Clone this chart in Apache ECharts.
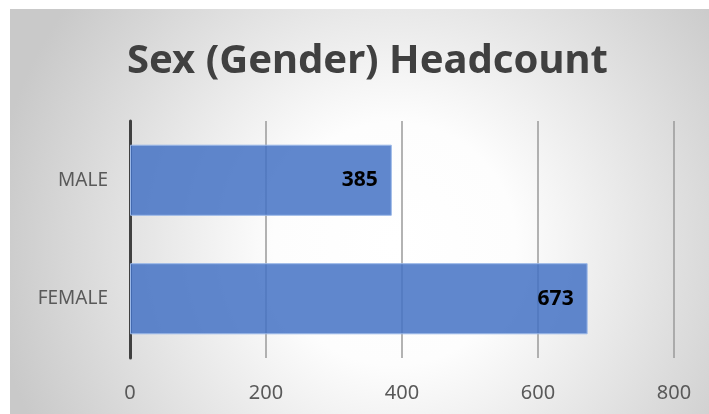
<!DOCTYPE html>
<html>
<head>
<meta charset="utf-8" />
<title>Sex (Gender) Headcount</title>
<script src="https://cdn.jsdelivr.net/npm/echarts@6/dist/echarts.min.js"></script>
</head>
<body style="margin: 0; background: #fff">
<div id="container" style="width: 709px; height: 414px"></div>
<script type="text/javascript">
  // chart data
  const categories = ["FEMALE", "MALE"];
  const headcount = [673, 385];
  const xTicks = [0, 200, 400, 600, 800];

  const chart = echarts.init(document.getElementById("container"));
  chart.setOption({
    backgroundColor: "#ffffff",
    graphic: [
      {
        type: "rect",
        z: -10,
        silent: true,
        shape: { x: 10, y: 9, width: 699, height: 405 },
        style: {
          fill: new echarts.graphic.RadialGradient(0.55, 0.58, 1.0, [
            { offset: 0, color: "#ffffff" },
            { offset: 0.3, color: "#fdfdfd" },
            { offset: 1, color: "#c9c9c9" }
          ])
        }
      }
    ],
    title: {
      text: "Sex (Gender) Headcount",
      left: 122,
      top: 37,
      textStyle: {
        fontFamily: "Noto Sans",
        fontWeight: "bold",
        fontSize: 40,
        color: "#404040"
      }
    },
    grid: { left: 130, right: 35, top: 121, bottom: 56 },
    xAxis: {
      type: "value",
      min: xTicks[0],
      max: xTicks[xTicks.length - 1],
      interval: 200,
      axisLine: { show: false },
      axisTick: { show: false },
      axisLabel: {
        margin: 25,
        fontFamily: "Noto Sans",
        fontSize: 20,
        color: "#595959"
      },
      splitLine: { lineStyle: { color: "#9a9a9a", width: 1.5 } }
    },
    yAxis: {
      type: "category",
      data: categories,
      axisLine: { lineStyle: { color: "#404040", width: 3 } },
      axisTick: { show: false },
      axisLabel: {
        margin: 22,
        fontFamily: "Noto Sans",
        fontSize: 19,
        color: "#595959"
      }
    },
    series: [
      {
        type: "bar",
        data: headcount,
        barCategoryGap: "40%",
        itemStyle: {
          color: "rgba(68,114,196,0.85)",
          borderColor: "#9bb8e8",
          borderWidth: 1
        },
        label: {
          show: true,
          position: "insideRight",
          distance: 14,
          fontFamily: "Noto Sans",
          fontWeight: "bold",
          fontSize: 21,
          color: "#000"
        }
      }
    ]
  });
</script>
</body>
</html>
